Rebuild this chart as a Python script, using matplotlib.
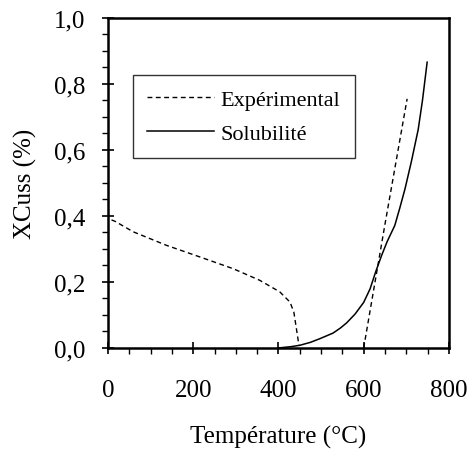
import matplotlib.pyplot as plt
from matplotlib.ticker import MultipleLocator, FuncFormatter

# experimental curve (two branches, separated by None)
exp_t = [8, 16, 59, 137, 215, 294, 356, 403, 427, 436, 442, 448,
         None, 600, 650, 702]
exp_x = [0.388, 0.384, 0.352, 0.311, 0.276, 0.240, 0.205, 0.170, 0.139, 0.109, 0.059, 0.008,
         None, 0.0, 0.375, 0.755]

sol_t = [400, 430, 450, 475, 497, 528, 545, 560, 580, 600, 615, 628, 642, 655, 673, 685,
         697, 712, 728, 738, 749]
sol_x = [0.0, 0.004, 0.008, 0.017, 0.028, 0.045, 0.060, 0.076, 0.103, 0.138, 0.179, 0.230,
         0.280, 0.322, 0.371, 0.425, 0.482, 0.565, 0.662, 0.750, 0.866]

plt.rcParams['font.family'] = ['Liberation Serif', 'DejaVu Serif']

fig = plt.figure(figsize=(4.72, 4.52), dpi=100)
ax = fig.add_axes([0.229, 0.228, 0.722, 0.730])

t1 = [v if v is not None else float('nan') for v in exp_t]
x1 = [v if v is not None else float('nan') for v in exp_x]
ax.plot(t1, x1, color='black', lw=1.0, dashes=(3.5, 2.5), label='Expérimental')
ax.plot(sol_t, sol_x, color='black', lw=1.1, label='Solubilité')

ax.set_xlim(0, 800)
ax.set_ylim(0, 1.0)
ax.xaxis.set_major_locator(MultipleLocator(200))
ax.xaxis.set_minor_locator(MultipleLocator(50))
ax.yaxis.set_major_locator(MultipleLocator(0.2))
ax.yaxis.set_minor_locator(MultipleLocator(0.05))
ax.yaxis.set_major_formatter(FuncFormatter(lambda v, p: f'{v:.1f}'.replace('.', ',')))

ax.tick_params(which='major', direction='inout', length=9, width=1.2, labelsize=18, pad=12)
ax.tick_params(which='minor', direction='out', length=4, width=1.0)
ax.tick_params(axis='x', pad=18)
for s in ax.spines.values():
    s.set_linewidth(1.8)

ax.set_xlabel('Température (°C)', fontsize=18, labelpad=17)
ax.set_ylabel('XCuss (%)', fontsize=18, labelpad=12)

leg = ax.legend(loc='upper left', bbox_to_anchor=(0.073, 0.827), fontsize=16,
                frameon=True, fancybox=False, edgecolor='black', handlelength=3.0,
                handletextpad=0.3, borderpad=0.65, labelspacing=0.6, borderaxespad=0)
leg.get_frame().set_linewidth(1.0)

fig.savefig('out.png', dpi=100)
